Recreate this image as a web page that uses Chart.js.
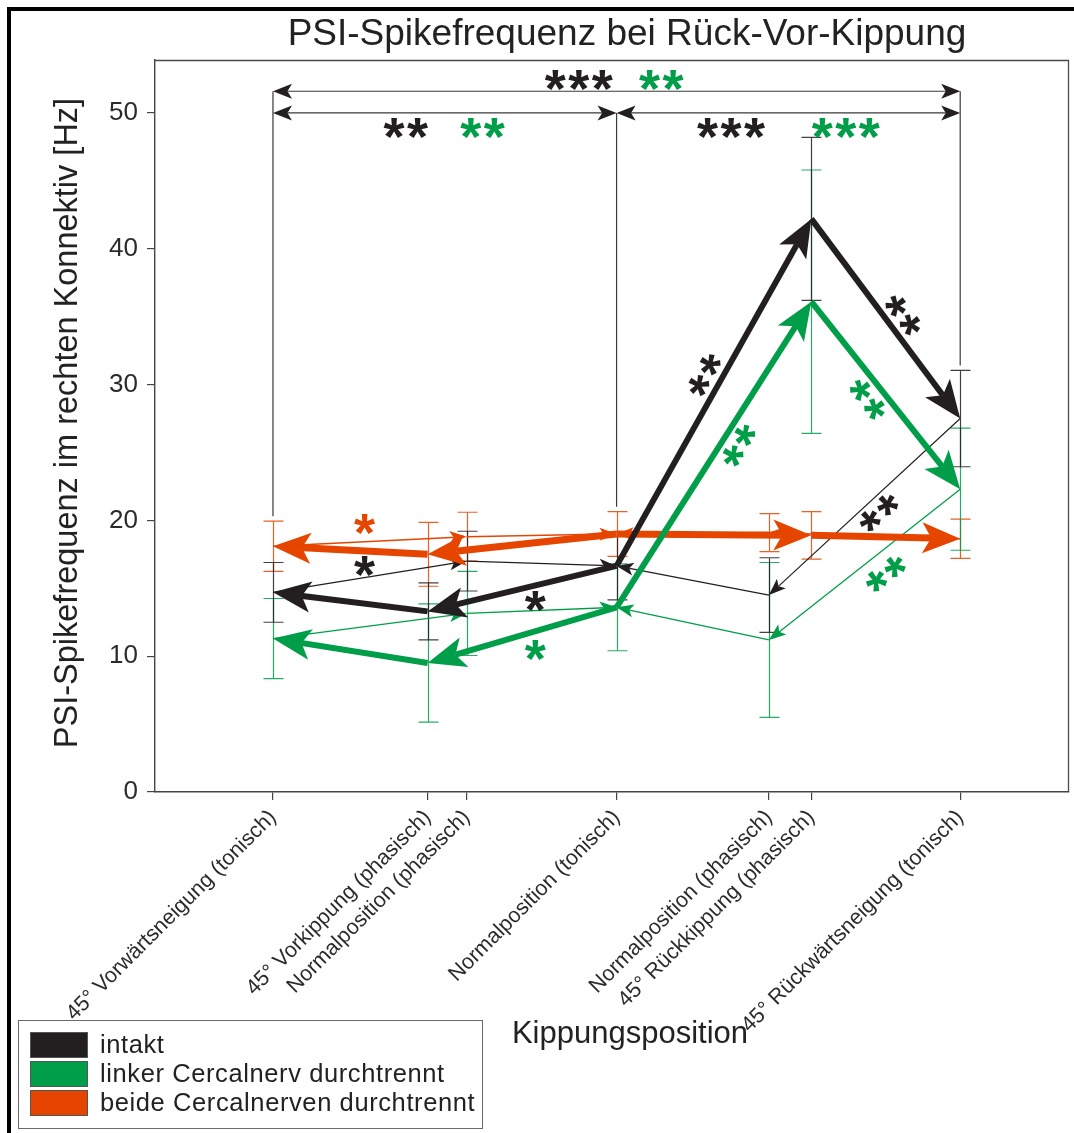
<!DOCTYPE html>
<html>
<head>
<meta charset="utf-8">
<script src="https://cdn.jsdelivr.net/npm/chart.js@4/dist/chart.umd.min.js"></script>
<style>
  html, body { margin: 0; padding: 0; background: #fff; }
  #wrap { position: relative; width: 1074px; height: 1133px; }
</style>
</head>
<body>
<div id="wrap"><canvas id="chart" width="1074" height="1133"></canvas></div>
<script>
// ---- Tilt positions on the x axis ----
const positionLabels = [
  '45° Vorwärtsneigung (tonisch)',
  '45° Vorkippung (phasisch)',
  'Normalposition (phasisch)',
  'Normalposition (tonisch)',
  'Normalposition (phasisch)',
  '45° Rückkippung (phasisch)',
  '45° Rückwärtsneigung (tonisch)'
];
const positionX = [0, 1.35, 1.69, 3, 4.33, 4.7, 6];

// ---- Mean PSI spike frequency [Hz] and standard deviation per position ----
const seriesNames = ['intakt', 'linker Cercalnerv durchtrennt', 'beide Cercalnerven durchtrennt'];
const intaktMean = [14.7, 13.3, 17.0, 16.65, 14.5, 42.2, 27.5];
const intaktSD   = [2.2, 2.1, 2.2, 2.5, 2.75, 6.0, 3.55];
const linkerMean = [11.3, 9.5, 13.15, 13.6, 11.2, 36.1, 22.3];
const linkerSD   = [2.95, 4.35, 3.1, 3.2, 5.7, 9.7, 4.5];
const beideMean  = [18.1, 17.5, 18.8, 19.0, 19.1, 18.9, 18.65];
const beideSD    = [1.85, 2.35, 1.8, 1.65, 1.4, 1.75, 1.45];

const yTicks = [0, 10, 20, 30, 40, 50];

// ---- Tilt sequence: thick = tilting movement, thin = return to normal ----
const thickPaths = [[3, 1], [1, 0], [3, 5], [5, 6]];
const thinPaths  = [[0, 2], [2, 3], [6, 4], [4, 3]];

const COLORS = ['#231f20', '#009e49', '#e64500'];
const FONT = 'Liberation Sans, Arial, sans-serif';

const series = [
  { name: seriesNames[0], mean: intaktMean, sd: intaktSD, color: COLORS[0], thick: 6, thin: 1.2 },
  { name: seriesNames[1], mean: linkerMean, sd: linkerSD, color: COLORS[1], thick: 6, thin: 1.3 },
  { name: seriesNames[2], mean: beideMean,  sd: beideSD,  color: COLORS[2], thick: 7, thin: 1.5 }
];

const BIG_HEAD = { L: 38, W: 15.5, N: 9 };
const SMALL_HEAD = { L: 17, W: 6.5, N: 4 };

function arrowDataset(s, path, bold) {
  const [a, b] = path;
  return {
    label: s.name,
    data: [{ x: positionX[a], y: s.mean[a] }, { x: positionX[b], y: s.mean[b] }],
    borderColor: s.color,
    backgroundColor: s.color,
    borderWidth: bold ? s.thick : s.thin,
    borderCapStyle: 'butt',
    pointRadius: 0,
    pointHoverRadius: 0,
    tension: 0,
    head: bold ? BIG_HEAD : SMALL_HEAD
  };
}

// index 0 is painted last (on top): thick arrows above thin ones
const datasets = [];
series.forEach(s => thickPaths.forEach(p => datasets.push(arrowDataset(s, p, true))));
series.forEach(s => thinPaths.forEach(p => datasets.push(arrowDataset(s, p, false))));

// ---- helpers ----
function headPoints(tip, ux, uy, h) {
  const nx = -uy, ny = ux;
  const bx = tip.x - ux * h.L, by = tip.y - uy * h.L;
  return {
    tip: tip,
    c1: { x: bx + nx * h.W, y: by + ny * h.W },
    c2: { x: bx - nx * h.W, y: by - ny * h.W },
    notch: { x: tip.x - ux * (h.L - h.N), y: tip.y - uy * (h.L - h.N) }
  };
}
function fillHead(ctx, hp, color) {
  ctx.beginPath();
  ctx.moveTo(hp.tip.x, hp.tip.y);
  ctx.lineTo(hp.c1.x, hp.c1.y);
  ctx.lineTo(hp.notch.x, hp.notch.y);
  ctx.lineTo(hp.c2.x, hp.c2.y);
  ctx.closePath();
  ctx.fillStyle = color;
  ctx.fill();
}
function segmentGeometry(chart, index) {
  const meta = chart.getDatasetMeta(index);
  if (!meta || meta.data.length < 2) return null;
  const p0 = meta.data[0], p1 = meta.data[1];
  const dx = p1.x - p0.x, dy = p1.y - p0.y;
  const len = Math.hypot(dx, dy) || 1;
  return { p0, p1, ux: dx / len, uy: dy / len };
}

// stars drawn one by one, centred on (cx, cy), laid along angle
function drawStars(ctx, count, cx, cy, color, angleDeg) {
  const size = 54, step = 23.5;
  ctx.save();
  ctx.translate(cx, cy);
  ctx.rotate((angleDeg || 0) * Math.PI / 180);
  ctx.font = 'bold ' + size + 'px ' + FONT;
  ctx.fillStyle = color;
  ctx.textAlign = 'center';
  ctx.textBaseline = 'alphabetic';
  const m = ctx.measureText('*');
  const yOff = (m.actualBoundingBoxAscent - m.actualBoundingBoxDescent) / 2;
  for (let i = 0; i < count; i++) {
    const x = (i - (count - 1) / 2) * step;
    ctx.fillText('*', x, yOff);
  }
  ctx.restore();
}

// arrow shafts stop at the notch of their heads, heads drawn on top
const arrowPlugin = {
  id: 'arrowHeads',
  beforeDatasetDraw(chart, args) {
    const g = segmentGeometry(chart, args.index);
    const ctx = chart.ctx;
    ctx.save();
    if (!g) return;
    const h = chart.data.datasets[args.index].head;
    const hp = headPoints(g.p1, g.ux, g.uy, h);
    const nx = -g.uy, ny = g.ux, F = 3000;
    ctx.beginPath();
    ctx.moveTo(hp.notch.x + nx * F, hp.notch.y + ny * F);
    ctx.lineTo(hp.notch.x + nx * F - g.ux * F, hp.notch.y + ny * F - g.uy * F);
    ctx.lineTo(hp.notch.x - nx * F - g.ux * F, hp.notch.y - ny * F - g.uy * F);
    ctx.lineTo(hp.notch.x - nx * F, hp.notch.y - ny * F);
    ctx.closePath();
    ctx.clip();
  },
  afterDatasetDraw(chart, args) {
    const ctx = chart.ctx;
    ctx.restore();
    const g = segmentGeometry(chart, args.index);
    if (!g) return;
    const ds = chart.data.datasets[args.index];
    fillHead(ctx, headPoints(g.p1, g.ux, g.uy, ds.head), ds.borderColor);
  }
};

// standard deviation bars under the arrows
const errorBarPlugin = {
  id: 'errorBars',
  beforeDatasetsDraw(chart) {
    const ctx = chart.ctx, xs = chart.scales.x, ys = chart.scales.y;
    ctx.save();
    ctx.lineWidth = 1.2;
    [2, 1, 0].forEach(si => {
      const s = series[si];
      ctx.strokeStyle = s.color;
      ctx.globalAlpha = 0.85;
      positionX.forEach((px, i) => {
        const x = Math.round(xs.getPixelForValue(px)) + 0.5;
        const hi = ys.getPixelForValue(s.mean[i] + s.sd[i]);
        const lo = ys.getPixelForValue(s.mean[i] - s.sd[i]);
        ctx.beginPath();
        ctx.moveTo(x, hi); ctx.lineTo(x, lo);
        ctx.moveTo(x - 10, hi); ctx.lineTo(x + 10, hi);
        ctx.moveTo(x - 10, lo); ctx.lineTo(x + 10, lo);
        ctx.stroke();
      });
    });
    ctx.restore();
  }
};

// significance brackets, stars, titles, frame and legend
const decorPlugin = {
  id: 'decor',
  beforeDraw(chart) {
    const ctx = chart.ctx;
    ctx.save();
    ctx.fillStyle = '#fff';
    ctx.fillRect(0, 0, chart.width, chart.height);
    ctx.fillStyle = '#000';
    ctx.fillRect(7, 7, chart.width, 4);
    ctx.fillRect(7, 7, 4, chart.height);
    ctx.restore();
  },
  afterDatasetsDraw(chart) {
    const ctx = chart.ctx, xs = chart.scales.x, ys = chart.scales.y;
    const X = v => xs.getPixelForValue(v);
    const Y = v => ys.getPixelForValue(v);
    const topOf = i => Math.max(...series.map(s => s.mean[i] + s.sd[i])) + 0.35;
    ctx.save();
    ctx.strokeStyle = '#3a3a3a';
    ctx.lineWidth = 1.2;
    const hd = { L: 19, W: 7.5, N: 4.5 };
    const upper = 51.6, lower = 50.0;
    const xa = X(positionX[0]), xm = X(positionX[3]), xb = X(positionX[6]);
    // vertical drop lines
    ctx.beginPath();
    ctx.moveTo(xa, Y(upper)); ctx.lineTo(xa, Y(topOf(0)));
    ctx.moveTo(xm, Y(lower)); ctx.lineTo(xm, Y(topOf(3)));
    ctx.moveTo(xb, Y(upper)); ctx.lineTo(xb, Y(topOf(6)));
    ctx.stroke();
    // horizontal double arrows
    const bracket = (x1, x2, y) => {
      ctx.beginPath();
      ctx.moveTo(x1 + hd.L - hd.N, y); ctx.lineTo(x2 - hd.L + hd.N, y);
      ctx.stroke();
      fillHead(ctx, headPoints({ x: x1, y }, -1, 0, hd), COLORS[0]);
      fillHead(ctx, headPoints({ x: x2, y }, 1, 0, hd), COLORS[0]);
    };
    bracket(xa, xb, Y(upper));
    bracket(xa, xm, Y(lower));
    bracket(xm, xb, Y(lower));
    ctx.restore();

    // significance stars: [count, series colour, x value, y value, angle]
    const stars = [
      [3, 0, 2.67, 52.4, 0], [2, 1, 3.39, 52.4, 0],
      [2, 0, 1.16, 48.85, 0], [2, 1, 1.83, 48.85, 0],
      [3, 0, 4.0, 48.85, 0], [3, 1, 5.0, 48.85, 0],
      [1, 2, 0.8, 19.7, 0], [1, 0, 0.8, 16.6, 0],
      [1, 0, 2.29, 14.0, 0], [1, 1, 2.29, 10.45, 0],
      [2, 0, 3.77, 30.7, -61], [2, 1, 4.07, 25.5, -60],
      [2, 0, 5.5, 35.1, 53], [2, 1, 5.19, 28.9, 53],
      [2, 0, 5.29, 20.55, -42], [2, 1, 5.35, 16.05, -38]
    ];
    stars.forEach(([n, c, x, y, a]) => drawStars(ctx, n, X(x), Y(y), COLORS[c], a));
  },
  afterDraw(chart) {
    const ctx = chart.ctx, a = chart.chartArea;
    ctx.save();
    // frame: top and right edges
    ctx.strokeStyle = '#4a4a4a';
    ctx.lineWidth = 1.3;
    ctx.beginPath();
    ctx.moveTo(a.left, a.top + 0.5);
    ctx.lineTo(a.right - 0.5, a.top + 0.5);
    ctx.lineTo(a.right - 0.5, a.bottom);
    ctx.stroke();

    // titles
    ctx.fillStyle = '#222';
    ctx.textAlign = 'center';
    ctx.textBaseline = 'middle';
    ctx.font = '37px ' + FONT;
    ctx.fillText('PSI-Spikefrequenz bei Rück-Vor-Kippung', 627, 35);
    ctx.font = '31px ' + FONT;
    ctx.fillText('Kippungsposition', 630, 1034);
    ctx.save();
    ctx.translate(68, 423);
    ctx.rotate(-Math.PI / 2);
    ctx.font = '32.5px ' + FONT;
    ctx.fillText('PSI-Spikefrequenz im rechten Konnektiv [Hz]', 0, 0);
    ctx.restore();

    // legend
    ctx.strokeStyle = '#6a6a6a';
    ctx.lineWidth = 1;
    ctx.strokeRect(18.5, 1020.5, 464, 108);
    ctx.textAlign = 'left';
    ctx.font = '25.5px ' + FONT;
    ctx.letterSpacing = '0.6px';
    series.forEach((s, i) => {
      const y = 1032 + i * 29;
      ctx.fillStyle = s.color;
      ctx.fillRect(30, y, 58, 26);
      ctx.strokeStyle = '#555';
      ctx.strokeRect(30.5, y + 0.5, 57, 25);
      ctx.fillStyle = '#222';
      ctx.fillText(s.name, 100, y + 14);
    });
    ctx.restore();
  }
};

new Chart(document.getElementById('chart'), {
  type: 'line',
  data: { datasets },
  options: {
    responsive: false,
    animation: false,
    devicePixelRatio: 1,
    events: [],
    layout: { padding: { left: 0, top: 60, right: 5, bottom: 0 } },
    plugins: { legend: { display: false }, title: { display: false }, tooltip: { enabled: false } },
    scales: {
      x: {
        type: 'linear',
        min: -1.03,
        max: 6.95,
        afterBuildTicks: scale => { scale.ticks = positionX.map(v => ({ value: v })); },
        afterFit: scale => { scale.height = 341; },
        grid: { drawOnChartArea: false, drawTicks: true, tickLength: 8, color: '#444', lineWidth: 1.2 },
        border: { display: true, color: '#444', width: 1.4 },
        ticks: {
          autoSkip: false,
          minRotation: 45,
          maxRotation: 45,
          padding: 5,
          color: '#2b2b2b',
          font: { family: FONT, size: 21.5 },
          callback: (value, index) => positionLabels[index]
        }
      },
      y: {
        type: 'linear',
        min: 0,
        max: 53.9,
        afterBuildTicks: scale => { scale.ticks = yTicks.map(v => ({ value: v })); },
        afterFit: scale => { scale.width = 155; },
        grid: { drawOnChartArea: false, drawTicks: true, tickLength: 8, color: '#444', lineWidth: 1.2 },
        border: { display: true, color: '#444', width: 1.4 },
        ticks: { padding: 9, color: '#2b2b2b', font: { family: FONT, size: 26 } }
      }
    }
  },
  plugins: [decorPlugin, errorBarPlugin, arrowPlugin]
});
</script>
</body>
</html>
